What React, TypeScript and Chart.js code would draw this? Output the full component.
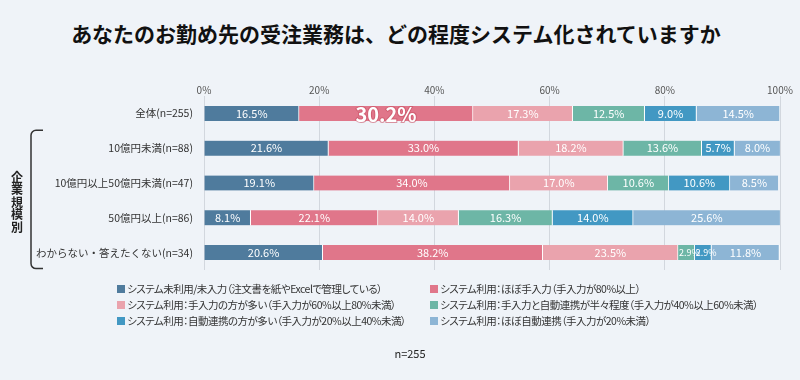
import React, { useEffect, useRef } from "react";
import { Chart, registerables } from "chart.js";

Chart.register(...registerables);

const TITLE = "あなたのお勤め先の受注業務は、どの程度システム化されていますか";
const CATEGORIES = [
  "全体(n=255)",
  "10億円未満(n=88)",
  "10億円以上50億円未満(n=47)",
  "50億円以上(n=86)",
  "わからない・答えたくない(n=34)",
];
const SERIES_NAMES = [
  "システム未利用/未入力（注文書を紙やExcelで管理している）",
  "システム利用：ほぼ手入力（手入力が80%以上）",
  "システム利用：手入力の方が多い（手入力が60%以上80%未満）",
  "システム利用：手入力と自動連携が半々程度（手入力が40%以上60%未満）",
  "システム利用：自動連携の方が多い（手入力が20%以上40%未満）",
  "システム利用：ほぼ自動連携（手入力が20%未満）",
];
const S1 = [16.5, 21.6, 19.1, 8.1, 20.6];
const S2 = [30.2, 33.0, 34.0, 22.1, 38.2];
const S3 = [17.3, 18.2, 17.0, 14.0, 23.5];
const S4 = [12.5, 13.6, 10.6, 16.3, 2.9];
const S5 = [9.0, 5.7, 10.6, 14.0, 2.9];
const S6 = [14.5, 8.0, 8.5, 25.6, 11.8];
const SERIES = [S1, S2, S3, S4, S5, S6];
const COLORS = ["#4f7b9d", "#e0768a", "#eaa3ad", "#6db6a6", "#4298c3", "#8db5d5"];
const X_TICKS = [0, 20, 40, 60, 80, 100];
const GROUP_LABEL = "企業規模別";
const NOTE = "n=255";

const FONT = "'Noto Sans CJK JP', 'Noto Sans', sans-serif";

const labelsPlugin = {
  id: "segLabels",
  afterDatasetsDraw(chart: any) {
    const ctx = chart.ctx;
    ctx.save();
    ctx.textAlign = "center";
    ctx.textBaseline = "middle";
    chart.data.datasets.forEach((ds: any, di: number) => {
      const meta = chart.getDatasetMeta(di);
      meta.data.forEach((el: any, i: number) => {
        const v = ds.data[i];
        const cx = (el.x + el.base) / 2;
        const cy = el.y;
        const txt = v.toFixed(1) + "%";
        if (di === 1 && i === 0) {
          ctx.font = `bold 20px ${FONT}`;
          ctx.lineWidth = 2;
          ctx.strokeStyle = "rgba(200,80,100,0.6)";
          ctx.strokeText(txt, cx, cy + 1);
          ctx.fillStyle = "#ffffff";
          ctx.fillText(txt, cx, cy + 1);
        } else if (v < 4) {
          ctx.font = `9px ${FONT}`;
          ctx.fillStyle = "#ffffff";
          ctx.fillText(txt, cx + 3, cy);
        } else {
          ctx.font = `11px ${FONT}`;
          ctx.fillStyle = "#ffffff";
          ctx.fillText(txt, cx, cy);
        }
      });
    });
    ctx.restore();
  },
};

const bracketPlugin = {
  id: "bracket",
  afterDraw(chart: any) {
    const ctx = chart.ctx;
    const yScale = chart.scales.y;
    const top = yScale.getPixelForValue(1) - 18;
    const bottom = yScale.getPixelForValue(4) + 16;
    const xl = 31;
    const xr = 43;
    const r = 5;
    ctx.save();
    ctx.strokeStyle = "#333";
    ctx.lineWidth = 1.5;
    ctx.beginPath();
    ctx.moveTo(xr, top);
    ctx.lineTo(xl + r, top);
    ctx.arcTo(xl, top, xl, top + r, r);
    ctx.lineTo(xl, bottom - r);
    ctx.arcTo(xl, bottom, xl + r, bottom, r);
    ctx.lineTo(xr, bottom);
    ctx.stroke();
    ctx.fillStyle = "#222";
    ctx.font = `bold 12px ${FONT}`;
    ctx.textAlign = "center";
    ctx.textBaseline = "middle";
    const chars = Array.from(GROUP_LABEL);
    const mid = (top + bottom) / 2 + 3;
    const step = 12.5;
    chars.forEach((c, k) => {
      ctx.fillText(c, 17, mid + (k - (chars.length - 1) / 2) * step);
    });
    ctx.restore();
  },
};

export default function App() {
  const ref = useRef<HTMLCanvasElement>(null);
  useEffect(() => {
    if (!ref.current) return;
    const chart = new Chart(ref.current, {
      type: "bar",
      data: {
        labels: CATEGORIES,
        datasets: SERIES.map((d, i) => ({
          label: SERIES_NAMES[i],
          data: d,
          backgroundColor: COLORS[i],
          borderColor: "#ffffff",
          borderWidth: { left: 0, right: 1, top: 0, bottom: 0 },
          borderSkipped: false,
          barThickness: 15,
        })),
      },
      options: {
        indexAxis: "y",
        responsive: false,
        animation: false,
        layout: { padding: { left: 0, right: 20, top: 84, bottom: 110 } },
        plugins: {
          legend: { display: false },
          title: { display: false },
          tooltip: { enabled: false },
        },
        scales: {
          x: {
            stacked: true,
            position: "top",
            min: 0,
            max: 100,
            afterBuildTicks: (s: any) => {
              s.ticks = X_TICKS.map((v) => ({ value: v }));
            },
            ticks: {
              callback: (v: any) => v + "%",
              font: { size: 10, family: FONT },
              color: "#555",
              padding: 0,
            },
            grid: { color: "#d2d7de", drawTicks: false, lineWidth: 1 },
            border: { display: false },
          },
          y: {
            stacked: true,
            ticks: {
              font: { size: 10.5, family: FONT },
              color: "#333",
              padding: 3,
            },
            grid: { display: false },
            border: { display: false },
            afterFit: (s: any) => {
              s.width = 204;
            },
          },
        },
      },
      plugins: [labelsPlugin, bracketPlugin],
    } as any);
    return () => chart.destroy();
  }, []);

  const legendItem = (i: number, left: number, top: number) => (
    <div
      key={i}
      style={{
        position: "absolute",
        left,
        top,
        fontSize: 10.5,
        lineHeight: "14px",
        color: "#333",
        whiteSpace: "nowrap",
        display: "flex",
        alignItems: "center",
        fontFeatureSettings: "'palt' 1",
        letterSpacing: "-0.5px",
      }}
    >
      <span
        style={{
          display: "inline-block",
          width: 8,
          height: 8,
          background: COLORS[i],
          marginRight: 2,
        }}
      />
      {SERIES_NAMES[i]}
    </div>
  );

  return (
    <div
      style={{
        position: "fixed",
        left: 0,
        top: 0,
        width: 800,
        height: 380,
        background: "#eff3f8",
        fontFamily: FONT,
        overflow: "hidden",
      }}
    >
      <div
        style={{
          position: "absolute",
          left: 0,
          top: 18,
          width: 792,
          textAlign: "center",
          fontSize: 21,
          fontWeight: "bold",
          color: "#111",
          lineHeight: "30px",
          whiteSpace: "nowrap",
        }}
      >
        {TITLE}
      </div>
      <canvas ref={ref} width={800} height={380} style={{ position: "absolute", left: 0, top: 0 }} />
      {legendItem(0, 117, 282)}
      {legendItem(1, 430, 282)}
      {legendItem(2, 117, 298)}
      {legendItem(3, 430, 298)}
      {legendItem(4, 117, 314)}
      {legendItem(5, 430, 314)}
      <div
        style={{
          position: "absolute",
          left: 0,
          top: 345,
          width: 820,
          textAlign: "center",
          fontSize: 11,
          color: "#222",
        }}
      >
        {NOTE}
      </div>
    </div>
  );
}
